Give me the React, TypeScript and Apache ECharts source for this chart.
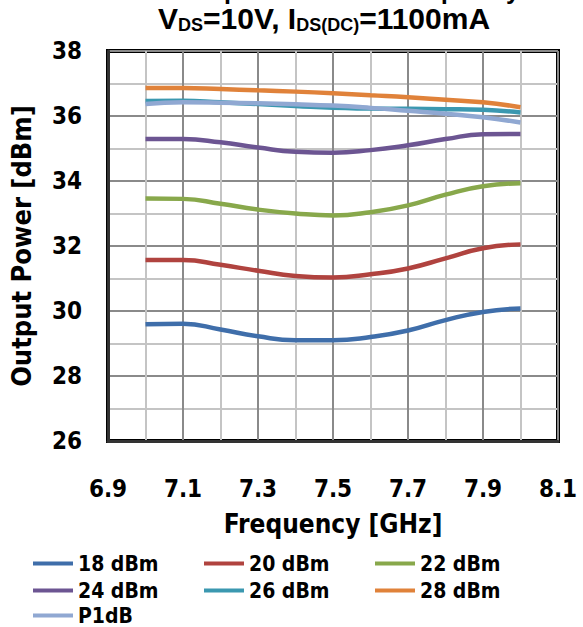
import React, { useEffect, useRef } from "react";
import * as echarts from "echarts";

const freqs = [7.0, 7.1, 7.2, 7.3, 7.4, 7.5, 7.6, 7.7, 7.8, 7.9, 8.0];
const p18 = [29.59, 29.61, 29.43, 29.22, 29.1, 29.1, 29.2, 29.4, 29.72, 29.97, 30.08];
const p20 = [31.57, 31.57, 31.42, 31.24, 31.08, 31.03, 31.13, 31.31, 31.62, 31.93, 32.05];
const p22 = [33.46, 33.45, 33.3, 33.12, 33.0, 32.94, 33.04, 33.25, 33.58, 33.84, 33.93];
const p24 = [35.29, 35.29, 35.19, 35.03, 34.9, 34.87, 34.95, 35.1, 35.29, 35.44, 35.45];
const p26 = [36.46, 36.47, 36.42, 36.37, 36.31, 36.25, 36.23, 36.22, 36.21, 36.19, 36.11];
const p28 = [36.86, 36.86, 36.83, 36.79, 36.75, 36.7, 36.64, 36.58, 36.5, 36.42, 36.27];
const p1db = [36.37, 36.42, 36.41, 36.39, 36.36, 36.32, 36.25, 36.16, 36.07, 35.96, 35.8];

const seriesNames = ["18 dBm", "20 dBm", "22 dBm", "24 dBm", "26 dBm", "28 dBm", "P1dB"];
const seriesValues = [p18, p20, p22, p24, p26, p28, p1db];
const seriesColors = ["#3F6EAA", "#B0433F", "#88A84B", "#6C5592", "#3B98B0", "#E0823A", "#90A8D2"];

const legendRows = [
  ["18 dBm", "20 dBm", "22 dBm"],
  ["24 dBm", "26 dBm", "28 dBm"],
  ["P1dB"],
];

const titleLine1 = "Output Power vs. Frequency";

const axisFont = '"DejaVu Sans Condensed", "DejaVu Sans", sans-serif';
const titleFont = '"Liberation Sans", Arial, sans-serif';

export default function App() {
  const ref = useRef<HTMLDivElement>(null);
  useEffect(() => {
    document.body.style.margin = "0";
    const chart = echarts.init(ref.current!, null, { renderer: "svg" });
    const legendTops = [553, 580, 605];
    chart.setOption({
      animation: false,
      backgroundColor: "#fff",
      title: {
        text: "{m|V}{s|DS}{m|=10V, I}{s|DS(DC)}{m|=1100mA}",
        left: 158,
        top: 2,
        padding: 0,
        textStyle: {
          rich: {
            m: { fontSize: 30, fontWeight: "bold", fontFamily: titleFont, color: "#000", lineHeight: 32, verticalAlign: "middle" },
            s: { fontSize: 18, fontWeight: "bold", fontFamily: titleFont, color: "#000", lineHeight: 17, verticalAlign: "bottom" },
          },
        },
      },
      graphic: [
        {
          type: "text",
          x: 181,
          y: 2,
          style: {
            text: titleLine1,
            font: `bold 25px ${titleFont}`,
            fill: "#000",
            verticalAlign: "bottom",
          },
        },
      ],
      grid: {
        left: 108,
        right: 25,
        top: 51,
        bottom: 186,
        show: true,
        borderColor: "#000",
        borderWidth: 4,
      },
      xAxis: {
        type: "value",
        min: 6.9,
        max: 8.1,
        interval: 0.1,
        axisLine: { show: true, lineStyle: { color: "#333", width: 3 } },
        axisTick: { show: false },
        axisLabel: {
          formatter: (v: number) => (Math.round(v * 10) % 2 === 1 ? v.toFixed(1) : ""),
          fontSize: 24,
          fontWeight: "bold",
          fontFamily: axisFont,
          color: "#000",
          margin: 36,
          showMinLabel: true,
          showMaxLabel: true,
        },
        splitLine: { show: true, lineStyle: { color: ["#8a8a8a", "#c4c4c4"], width: 2 } },
        name: "Frequency [GHz]",
        nameLocation: "middle",
        nameGap: 70,
        nameTextStyle: { fontSize: 26, fontWeight: "bold", fontFamily: axisFont, color: "#000" },
      },
      yAxis: {
        type: "value",
        min: 26,
        max: 38,
        interval: 2,
        axisLine: { show: true, lineStyle: { color: "#333", width: 3 } },
        axisTick: { show: false },
        minorTick: { show: false, splitNumber: 2 },
        axisLabel: {
          fontSize: 24,
          fontWeight: "bold",
          fontFamily: axisFont,
          color: "#000",
          margin: 26,
        },
        splitLine: { show: true, lineStyle: { color: "#8a8a8a", width: 2 } },
        minorSplitLine: { show: true, lineStyle: { color: "#c4c4c4", width: 2 } },
        name: "Output Power [dBm]",
        nameLocation: "middle",
        nameGap: 73,
        nameTextStyle: { fontSize: 27, fontWeight: "bold", fontFamily: axisFont, color: "#000" },
      },
      legend: legendRows.map((row, i) => ({
        data: row,
        orient: "horizontal",
        left: 33,
        top: legendTops[i],
        padding: 0,
        icon: "rect",
        itemWidth: 40,
        itemHeight: 4,
        itemGap: 0,
        selectedMode: false,
        textStyle: { fontSize: 21, fontWeight: "bold", fontFamily: axisFont, color: "#000", lineHeight: 20, width: 126 },
      })),
      series: seriesNames.map((name, i) => ({
        name,
        type: "line",
        smooth: true,
        symbol: "none",
        color: seriesColors[i],
        lineStyle: { width: 4.5, color: seriesColors[i] },
        data: freqs.map((f, j) => [f, seriesValues[i][j]]),
      })),
    });
    return () => chart.dispose();
  }, []);
  return <div ref={ref} style={{ width: 583, height: 627 }} />;
}
